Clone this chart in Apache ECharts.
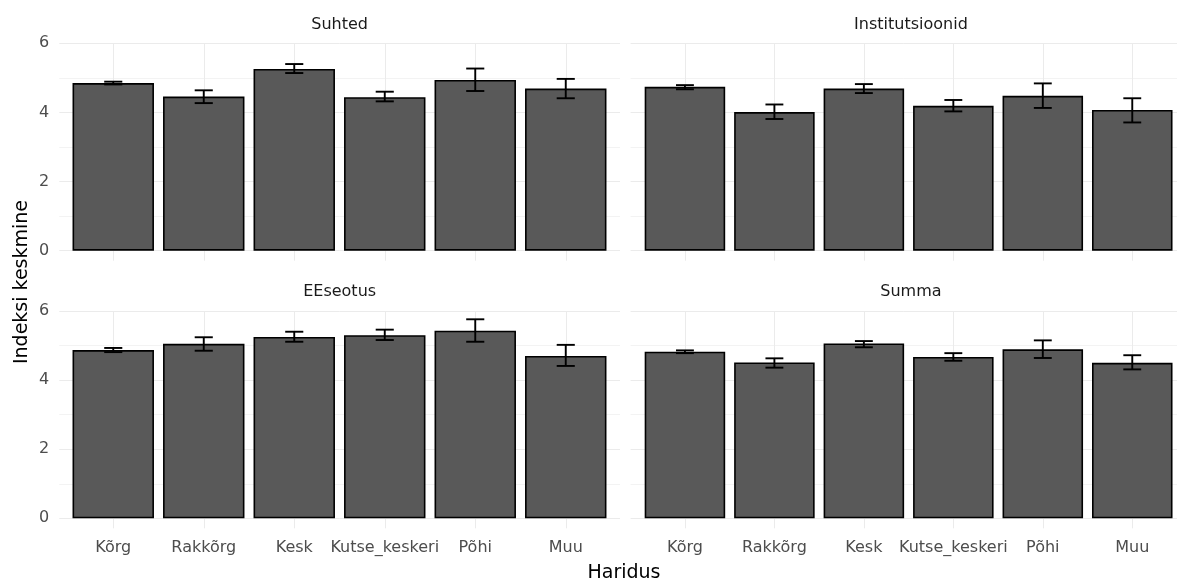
<!DOCTYPE html>
<html>
<head>
<meta charset="utf-8">
<script src="https://cdn.jsdelivr.net/npm/echarts@6/dist/echarts.min.js"></script>
<style>html,body{margin:0;padding:0;background:#fff;}#c{width:1177px;height:581px;}</style>
</head>
<body>
<div id="c"></div>
<script>
const categories = ['Kõrg', 'Rakkõrg', 'Kesk', 'Kutse_keskeri', 'Põhi', 'Muu'];
const panelNames = ['Suhted', 'Institutsioonid', 'EEseotus', 'Summa'];
const yTicks = [0, 2, 4, 6];
const xTitle = 'Haridus';
const yTitle = 'Indeksi keskmine';

const suhtedMean = [4.85, 4.46, 5.26, 4.44, 4.94, 4.69];
const suhtedLow  = [4.81, 4.27, 5.14, 4.32, 4.62, 4.41];
const suhtedHigh = [4.89, 4.64, 5.40, 4.60, 5.27, 4.97];

const instMean = [4.74, 4.01, 4.69, 4.19, 4.48, 4.07];
const instLow  = [4.67, 3.81, 4.56, 4.03, 4.13, 3.71];
const instHigh = [4.79, 4.23, 4.82, 4.36, 4.84, 4.41];

const eeMean = [4.87, 5.05, 5.25, 5.30, 5.43, 4.70];
const eeLow  = [4.81, 4.85, 5.11, 5.16, 5.11, 4.41];
const eeHigh = [4.93, 5.24, 5.40, 5.46, 5.76, 5.02];

const summaMean = [4.82, 4.51, 5.06, 4.67, 4.89, 4.50];
const summaLow  = [4.78, 4.36, 4.95, 4.56, 4.64, 4.31];
const summaHigh = [4.86, 4.63, 5.13, 4.78, 5.15, 4.72];

const means = [suhtedMean, instMean, eeMean, summaMean];
const lows = [suhtedLow, instLow, eeLow, summaLow];
const highs = [suhtedHigh, instHigh, eeHigh, summaHigh];

const FONT = 'DejaVu Sans';
// background panel (horizontal grid lines, y labels)
const panelPos = [
  {left: 59.3, top: 43.3, width: 560.7, height: 207.4},
  {left: 630.6, top: 43.3, width: 560.7, height: 207.4},
  {left: 59.3, top: 311, width: 560.7, height: 207.3},
  {left: 630.6, top: 311, width: 560.7, height: 207.3}
];
// data area (discrete scale with 0.6 expansion inside the panel)
const dataPos = [
  {left: 68.0, top: 43.3, width: 543, height: 207.4},
  {left: 640.2, top: 43.3, width: 543, height: 207.4},
  {left: 68.0, top: 311, width: 543, height: 207.3},
  {left: 640.2, top: 311, width: 543, height: 207.3}
];
const stripY = [25, 25, 292, 292];

const grids = [], xAxes = [], yAxes = [], series = [], graphics = [];
panelPos.forEach((g, i) => {
  // background grid
  grids.push(Object.assign({containLabel: false}, g));
  xAxes.push({type: 'value', gridIndex: 2 * i, min: 0, max: 1, show: false});
  yAxes.push({
    type: 'value', gridIndex: 2 * i, min: 0, max: 6, interval: 1,
    axisLine: {show: false}, axisTick: {show: false},
    splitLine: {show: true, lineStyle: {color: ['#ebebeb', '#f3f3f3'], width: 1}},
    axisLabel: {
      show: i % 2 === 0, margin: 10, fontFamily: FONT, fontSize: 16, color: '#4d4d4d',
      formatter: v => yTicks.indexOf(v) >= 0 ? String(v) : ''
    }
  });
  // data grid
  grids.push(Object.assign({containLabel: false}, dataPos[i]));
  xAxes.push({
    type: 'category', gridIndex: 2 * i + 1, data: categories, boundaryGap: true,
    axisLine: {show: false},
    axisTick: {show: true, alignWithLabel: true, length: 10, lineStyle: {color: '#ebebeb', width: 1}},
    splitLine: {show: true, alignWithLabel: true, lineStyle: {color: '#ebebeb', width: 1}},
    axisLabel: {show: i >= 2, margin: 22, fontFamily: FONT, fontSize: 16, color: '#4d4d4d', interval: 0}
  });
  yAxes.push({
    type: 'value', gridIndex: 2 * i + 1, min: 0, max: 6, interval: 1,
    axisLine: {show: false}, axisTick: {show: false}, axisLabel: {show: false}, splitLine: {show: false}
  });
  series.push({
    type: 'bar', xAxisIndex: 2 * i + 1, yAxisIndex: 2 * i + 1, data: means[i], barWidth: '90%',
    itemStyle: {color: '#595959', borderColor: '#000', borderWidth: 1.6},
    silent: true, z: 2
  });
  series.push({
    type: 'custom', xAxisIndex: 2 * i + 1, yAxisIndex: 2 * i + 1, z: 3, silent: true,
    data: categories.map((c, k) => [k, lows[i][k], highs[i][k]]),
    encode: {x: 0, y: [1, 2]},
    renderItem: (params, api) => {
      const x = api.value(0), lo = api.value(1), hi = api.value(2);
      const pLo = api.coord([x, lo]), pHi = api.coord([x, hi]);
      const hw = api.size([1, 0])[0] * 0.1;
      const style = {stroke: '#000', lineWidth: 1.9, fill: null};
      return {type: 'group', children: [
        {type: 'line', shape: {x1: pLo[0], y1: pHi[1], x2: pLo[0], y2: pLo[1]}, style: style},
        {type: 'line', shape: {x1: pLo[0] - hw, y1: pHi[1], x2: pLo[0] + hw, y2: pHi[1]}, style: style},
        {type: 'line', shape: {x1: pLo[0] - hw, y1: pLo[1], x2: pLo[0] + hw, y2: pLo[1]}, style: style}
      ]};
    }
  });
  graphics.push({
    type: 'text', x: g.left + g.width / 2, y: stripY[i],
    style: {text: panelNames[i], fontFamily: FONT, fontSize: 16, fill: '#1a1a1a', textAlign: 'center', textVerticalAlign: 'middle'}
  });
});
graphics.push({
  type: 'text', x: 624, y: 573,
  style: {text: xTitle, fontFamily: FONT, fontSize: 19, fill: '#000', textAlign: 'center', textVerticalAlign: 'middle'}
});
graphics.push({
  type: 'text', x: 22, y: 282, rotation: Math.PI / 2,
  style: {text: yTitle, fontFamily: FONT, fontSize: 19, fill: '#000', textAlign: 'center', textVerticalAlign: 'middle'}
});

const chart = echarts.init(document.getElementById('c'), null, {renderer: 'canvas'});
chart.setOption({
  animation: false,
  backgroundColor: '#fff',
  grid: grids, xAxis: xAxes, yAxis: yAxes, series: series, graphic: graphics
});
</script>
</body>
</html>
